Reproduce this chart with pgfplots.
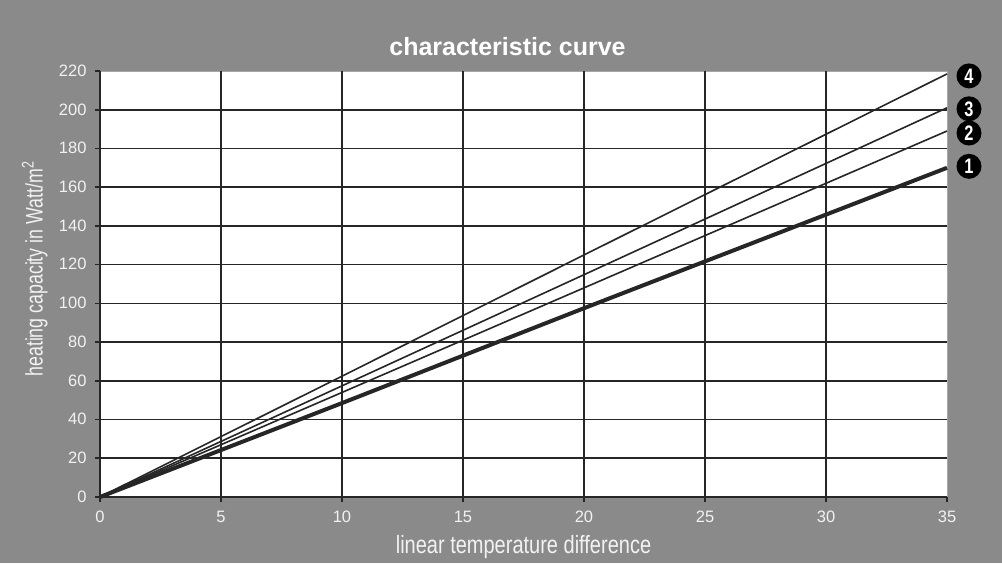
\documentclass[border=0pt]{standalone}
\usepackage{pgfplots}
\pgfplotsset{compat=1.18}
\usepackage{fontspec}
\setmainfont{Liberation Sans}
\definecolor{panel}{HTML}{8A8A8A}
\definecolor{ink}{HTML}{262626}
\definecolor{txt}{HTML}{F2F2F2}

\begin{document}
\begin{tikzpicture}
\fill[panel] (-100pt,-66pt) rectangle (902pt,497pt);
\useasboundingbox (-100pt,-66pt) rectangle (902pt,497pt);
\begin{axis}[
    scale only axis,
    width=847pt, height=426pt,
    xmin=0, xmax=35, ymin=0, ymax=220,
    clip=false,
    xtick={0,5,...,30}, extra x ticks={35},
    ytick={0,20,...,200}, extra y ticks={220},
    extra tick style={grid=none},
    grid=major,
    major grid style={ink, line width=1.6pt},
    axis lines*=left,
    axis line style={ink, line width=1.6pt},
    axis background/.style={fill=white, draw=gray!70, line width=0.8pt},
    tick align=outside,
    major tick length=5pt,
    tick style={ink, line width=1.6pt},
    /pgf/number format/assume math mode=true,
    typeset ticklabels with strut,
    ticklabel style={font=\fontsize{16.5}{16.5}\selectfont, text=txt},
    xticklabel style={yshift=-5pt},
    yticklabel style={xshift=-5pt, yshift=-2pt},
    title={characteristic curve},
    title style={at={(0.5,1)}, anchor=center, yshift=18pt, xshift=-16pt,
        font=\fontsize{25}{25}\selectfont\bfseries, text=white},
    xlabel={\scalebox{0.8}[1]{linear temperature difference}},
    xlabel style={at={(0.5,0)}, anchor=center, yshift=-50pt,
        font=\fontsize{25}{25}\selectfont, text=txt},
    ylabel={\scalebox{0.74}[1]{heating capacity in Watt/m\textsuperscript{2}}},
    ylabel style={at={(-0.077,0.535)}, anchor=center,
        font=\fontsize{24}{24}\selectfont, text=txt},
]
\tikzset{num/.style={circle, fill=black, text=white, inner sep=0pt,
    minimum size=25pt, font=\fontsize{21}{21}\selectfont\bfseries, xshift=22pt}}
% curve 1 (thick)
\addplot[ink, line width=4pt] coordinates {
    (0,0) (10,48.5) (20,97.5) (35,170)
} node[num, pos=1, yshift=1.5pt] {\scalebox{0.78}[1]{1}};
% curve 2
\addplot[ink, line width=1.6pt] coordinates {
    (0,0) (10,54) (20,108) (35,189)
} node[num, pos=1, yshift=-2pt] {\scalebox{0.78}[1]{2}};
% curve 3
\addplot[ink, line width=1.6pt] coordinates {
    (0,0) (10,57.4) (20,114.8) (35,201)
} node[num, pos=1, yshift=-1pt] {\scalebox{0.78}[1]{3}};
% curve 4
\addplot[ink, line width=1.6pt] coordinates {
    (0,0) (10,62.4) (20,125) (35,218.5)
} node[num, pos=1, yshift=-2pt] {\scalebox{0.78}[1]{4}};
\end{axis}
\end{tikzpicture}
\end{document}
